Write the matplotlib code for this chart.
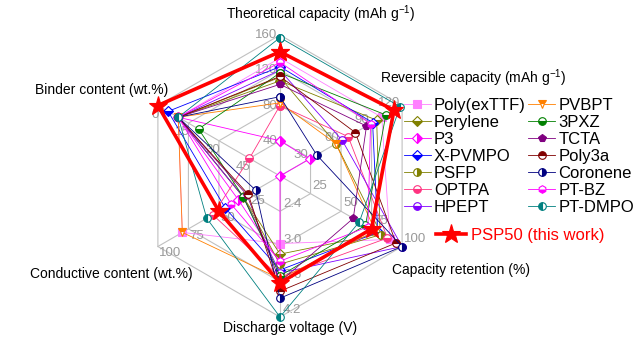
import numpy as np
import matplotlib
matplotlib.use('Agg')
import matplotlib.pyplot as plt

plt.rcParams['font.family'] = ['Liberation Sans', 'DejaVu Sans']
plt.rcParams['mathtext.default'] = 'regular'

# axes of the radar, clockwise from the top
axis_titles = ['Theoretical capacity (mAh g$^{-1}$)', 'Reversible capacity (mAh g$^{-1}$)',
               'Capacity retention (%)', 'Discharge voltage (V)',
               'Conductive content (wt.%)', 'Binder content (wt.%)']
axis_lo = [0, 0, 0, 1.8, 0, 60]
axis_hi = [160, 120, 100, 4.2, 100, 0]
tick_labels = [['40', '80', '120', '160'],
               ['30', '60', '90', '120'],
               ['25', '50', '75', '100'],
               ['2.4', '3.0', '3.6', '4.2'],
               ['25', '50', '75', '100'],
               ['45', '30', '15', '0']]

names = ['Poly(exTTF)', 'Perylene', 'P3', 'X-PVMPO', 'PSFP', 'OPTPA', 'HPEPT',
         'PVBPT', '3PXZ', 'TCTA', 'Poly3a', 'Coronene', 'PT-BZ', 'PT-DMPO',
         'PSP50 (this work)']
theo   = [134, 108, 40, 124, 112, 80, 120, 83, 117, 104, 113, 90, 129, 157, 141]
rev    = [100, 95, 29, 91, 55, 67, 61, 55, 104, 85, 74, 36, 89, 118, 112]
ret    = [90, 82, 0, 80, 83, 88, 100, 78, 70, 60, 95, 100, 72, 65, 75]
volt   = [2.95, 3.13, 3.28, 3.40, 3.30, 3.52, 3.45, 3.55, 3.50, 3.60, 3.76, 3.88, 3.25, 4.20, 3.62]
cond   = [80, 30, 34, 45, 30, 55, 30, 80, 30, 27, 26, 20, 40, 60, 50]
binder = [10, 10, 10, 5, 10, 45, 10, 10, 20, 10, 10, 10, 10, 10, 0]

colors = ['#ff80ff', '#808000', '#ff00ff', '#0000ff', '#808000', '#ff3380', '#8000ff',
          '#ff8000', '#008000', '#800080', '#800000', '#000080', '#ff00ff', '#008080', '#ff0000']
markers = ['s', 'D', 'D', 'D', 'o', 'o', 'o', 'v', 'o', 'p', 'o', 'o', 'h', 'o', '*']
fills = ['full', 'bottom', 'right', 'bottom', 'right', 'bottom', 'bottom', 'top',
         'bottom', 'full', 'top', 'right', 'bottom', 'left', 'full']

W, H = 642, 348
cx, cy, R = 280, 176, 141
fig = plt.figure(figsize=(W / 100, H / 100), dpi=100)
ax = fig.add_axes([0, 0, 1, 1])
ax.set_xlim(-cx / R, (W - cx) / R)
ax.set_ylim(-(H - cy) / R, cy / R)
ax.axis('off')

ang = np.deg2rad([90, 30, -30, -90, -150, 150])
ux, uy = np.cos(ang), np.sin(ang)

# hexagonal grid
for k in range(1, 5):
    r = k / 4
    ax.plot(np.append(ux, ux[0]) * r, np.append(uy, uy[0]) * r, color='#c0c0c0', lw=0.8, zorder=1)
for i in range(6):
    ax.plot([0, ux[i]], [0, uy[i]], color='#c0c0c0', lw=0.8, zorder=1)

# tick labels (ha, va, offset in pixels)
tick_style = [('right', 'center', (-3, 0)), ('right', 'center', (-2, 3)),
              ('left', 'center', (2, 8)), ('left', 'center', (3, 7)),
              ('left', 'center', (1, -7)), ('right', 'center', (1, -9))]
for i in range(6):
    ha, va, off = tick_style[i]
    for k, lab in enumerate(tick_labels[i]):
        r = (k + 1) / 4
        ax.annotate(lab, (ux[i] * r, uy[i] * r), xytext=off, textcoords='offset pixels',
                    ha=ha, va=va, fontsize=9.5, color='#999999', zorder=2)

data = np.array([theo, rev, ret, volt, cond, binder], dtype=float)
lo = np.array(axis_lo, dtype=float)[:, None]
hi = np.array(axis_hi, dtype=float)[:, None]
norm = (data - lo) / (hi - lo)

handles = []
for j, name in enumerate(names):
    r = norm[:, j]
    x = np.append(ux * r, ux[0] * r[0])
    y = np.append(uy * r, uy[0] * r[0])
    star = j == len(names) - 1
    h, = ax.plot(x, y, color=colors[j], lw=2.6 if star else 0.6,
                 marker=markers[j], ms=14 if star else 5.5, fillstyle=fills[j],
                 markerfacecoloralt='white', markeredgecolor=colors[j], markeredgewidth=0.8,
                 label=name, zorder=5 if star else 3)
    handles.append(h)

leg = fig.legend(handles[:14], names[:14], ncol=2,
                 loc='upper left', bbox_to_anchor=(404 / W, 1 - 98 / H), frameon=False,
                 fontsize=12, handlelength=1.6, handletextpad=0.2, columnspacing=0.15,
                 labelspacing=0.12, borderpad=0, borderaxespad=0)
leg2 = fig.legend(handles[14:], names[14:], loc='upper left',
                  bbox_to_anchor=(436 / W, 1 - 228 / H), frameon=False,
                  fontsize=12, handlelength=1.8, handletextpad=0.3,
                  borderpad=0, borderaxespad=0)
for t in leg2.get_texts():
    t.set_color('red')

fs = 10
fig.text(321 / W, 1 - 14 / H, axis_titles[0], ha='center', va='center', fontsize=fs)
fig.text(380 / W, 1 - 78 / H, axis_titles[1], ha='left', va='center', fontsize=fs)
fig.text(461 / W, 1 - 270 / H, axis_titles[2], ha='center', va='center', fontsize=fs)
fig.text(290 / W, 1 - 328 / H, axis_titles[3], ha='center', va='center', fontsize=fs)
fig.text(111 / W, 1 - 274 / H, axis_titles[4], ha='center', va='center', fontsize=fs)
fig.text(102 / W, 1 - 90 / H, axis_titles[5], ha='center', va='center', fontsize=fs)

plt.savefig('out.png', dpi=100)
